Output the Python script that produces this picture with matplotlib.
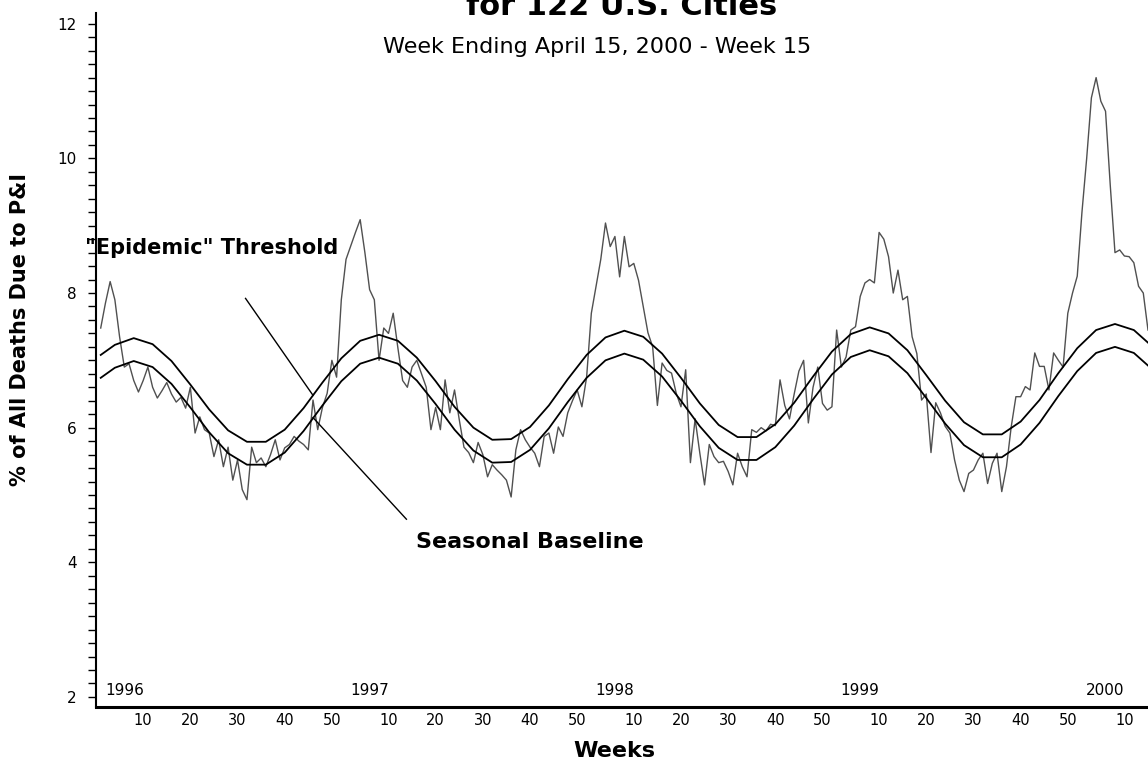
import numpy as np
import matplotlib
matplotlib.use("Agg")
import matplotlib.pyplot as plt
from matplotlib.ticker import MultipleLocator

# Weekly % of deaths due to pneumonia & influenza
pi_1996 = [7.48, 7.85, 8.17, 7.90, 7.35, 6.90, 6.95, 6.70, 6.53, 6.70,
           6.90, 6.60, 6.44, 6.55, 6.67, 6.50, 6.38, 6.45, 6.29, 6.60,
           5.92, 6.16, 5.97, 5.92, 5.57, 5.82, 5.42, 5.71, 5.22, 5.52,
           5.08, 4.93, 5.71, 5.48, 5.55, 5.42, 5.60, 5.82, 5.52, 5.70,
           5.75, 5.87, 5.80, 5.75, 5.67, 6.41, 5.97, 6.30, 6.51, 7.00,
           6.75, 7.90]
pi_1997 = [8.50, 8.70, 8.90, 9.09, 8.60, 8.05, 7.90, 7.00, 7.48, 7.40,
           7.70, 7.18, 6.70, 6.60, 6.90, 7.00, 6.80, 6.60, 5.97, 6.30,
           5.97, 6.71, 6.22, 6.56, 6.12, 5.71, 5.63, 5.48, 5.78, 5.60,
           5.27, 5.45, 5.37, 5.30, 5.22, 4.97, 5.67, 5.97, 5.82, 5.71,
           5.62, 5.42, 5.87, 5.92, 5.62, 6.01, 5.87, 6.22, 6.40, 6.56,
           6.31, 6.75]
pi_1998 = [7.70, 8.10, 8.50, 9.04, 8.69, 8.84, 8.24, 8.84, 8.39, 8.44,
           8.19, 7.80, 7.41, 7.20, 6.33, 6.96, 6.85, 6.81, 6.51, 6.31,
           6.86, 5.48, 6.13, 5.62, 5.15, 5.75, 5.57, 5.48, 5.50, 5.35,
           5.15, 5.62, 5.42, 5.27, 5.97, 5.93, 6.00, 5.95, 6.05, 6.03,
           6.71, 6.33, 6.13, 6.50, 6.84, 7.00, 6.07, 6.60, 6.90, 6.36,
           6.26, 6.31]
pi_1999 = [7.45, 6.90, 7.05, 7.45, 7.50, 7.95, 8.15, 8.20, 8.15, 8.90,
           8.80, 8.54, 8.00, 8.34, 7.90, 7.95, 7.35, 7.10, 6.41, 6.50,
           5.63, 6.37, 6.22, 6.02, 5.92, 5.52, 5.22, 5.05, 5.32, 5.37,
           5.52, 5.62, 5.17, 5.47, 5.62, 5.05, 5.42, 6.01, 6.46, 6.46,
           6.61, 6.56, 7.11, 6.91, 6.91, 6.56, 7.11, 7.00, 6.90, 7.70,
           8.00, 8.25]
pi_2000 = [9.20, 10.00, 10.90, 11.20, 10.85, 10.70, 9.60, 8.60, 8.64, 8.55,
           8.54, 8.45, 8.10, 8.00, 7.45]

# Seasonal baseline and epidemic threshold, sampled every 4 weeks
curve_weeks = [1] + list(range(4, 225, 4))
baseline = [6.74, 6.89, 6.99, 6.90, 6.65, 6.30, 5.93, 5.62, 5.45, 5.45, 5.63, 5.95, 6.33,
            6.69, 6.95, 7.04, 6.95, 6.70, 6.35, 5.97, 5.66, 5.48, 5.49, 5.67, 5.99, 6.38,
            6.74, 7.00, 7.10, 7.01, 6.76, 6.40, 6.02, 5.70, 5.52, 5.52, 5.71, 6.03, 6.42,
            6.79, 7.05, 7.15, 7.06, 6.81, 6.44, 6.06, 5.74, 5.56, 5.56, 5.75, 6.07, 6.47,
            6.84, 7.11, 7.20, 7.11, 6.86]
threshold = [7.08, 7.23, 7.33, 7.24, 6.99, 6.64, 6.27, 5.96, 5.79, 5.79, 5.97, 6.29, 6.67,
             7.03, 7.29, 7.38, 7.29, 7.04, 6.69, 6.31, 6.00, 5.82, 5.83, 6.01, 6.33, 6.72,
             7.08, 7.34, 7.44, 7.35, 7.10, 6.74, 6.36, 6.04, 5.86, 5.86, 6.05, 6.37, 6.76,
             7.13, 7.39, 7.49, 7.40, 7.15, 6.78, 6.40, 6.08, 5.90, 5.90, 6.09, 6.41, 6.81,
             7.18, 7.45, 7.54, 7.45, 7.20]

years = [1996, 1997, 1998, 1999, 2000]
week_ticks = [10, 20, 30, 40, 50]
weeks_per_year = 52
last_week = 223

pi_all = pi_1996 + pi_1997 + pi_1998 + pi_1999 + pi_2000
weeks = np.arange(1, len(pi_all) + 1)

plt.rcParams['font.family'] = 'DejaVu Sans'

fig = plt.figure(figsize=(11.48, 7.64), dpi=100)
ax = fig.add_axes([96 / 1148, 57 / 764, 1 - 96 / 1148, 694 / 764])

ax.plot(weeks, pi_all, color='#505050', lw=1.0)
ax.plot(curve_weeks, threshold, color='black', lw=1.3)
ax.plot(curve_weeks, baseline, color='black', lw=1.3)

# pointer lines from the labels to the curves
ax.plot([31.7, 46.0], [7.92, 6.48], color='black', lw=1)
ax.plot([46.0, 65.8], [6.15, 4.64], color='black', lw=1)

ax.set_xlim(0, last_week)
ax.set_ylim(1.85, 12.16)

ax.spines['top'].set_visible(False)
ax.spines['right'].set_visible(False)
ax.spines['left'].set_linewidth(1.5)
ax.spines['bottom'].set_linewidth(2.2)

ax.yaxis.set_minor_locator(MultipleLocator(0.2))
ax.set_yticks([2, 4, 6, 8, 10, 12])
ax.set_yticklabels(['2', '4', '6', '8', '10', '12'])
ax.tick_params(axis='y', which='both', direction='out', length=6, width=1,
               labelsize=11, pad=8)

xt, xl = [], []
for i, yr in enumerate(years):
    for w in week_ticks:
        pos = i * weeks_per_year + w
        if pos <= last_week:
            xt.append(pos)
            xl.append(str(w))
    ax.text(i * weeks_per_year + 6, 2.1, str(yr), ha='center', va='center', fontsize=11)
ax.set_xticks(xt)
ax.set_xticklabels(xl)
ax.tick_params(axis='x', length=0, labelsize=10.5, pad=4)

ax.text(-2.4, 8.67, '"Epidemic" Threshold', fontsize=15, fontweight='bold',
        ha='left', va='center')
ax.text(67.9, 4.30, 'Seasonal Baseline', fontsize=16, fontweight='bold',
        ha='left', va='center')

fig.text(622 / 1148, 1 - 15 / 764, 'for 122 U.S. Cities', ha='center', va='baseline',
         fontsize=22, fontweight='bold')
fig.text(597 / 1148, 1 - 47 / 764, 'Week Ending April 15, 2000 - Week 15',
         ha='center', va='center', fontsize=16)
fig.text(20 / 1148, 1 - 330 / 764, '% of All Deaths Due to P&I', rotation=90,
         ha='center', va='center', fontsize=15, fontweight='bold')
fig.text(614 / 1148, 1 - 751 / 764, 'Weeks', ha='center', va='center',
         fontsize=16, fontweight='bold')

fig.savefig('out.png', dpi=100)
